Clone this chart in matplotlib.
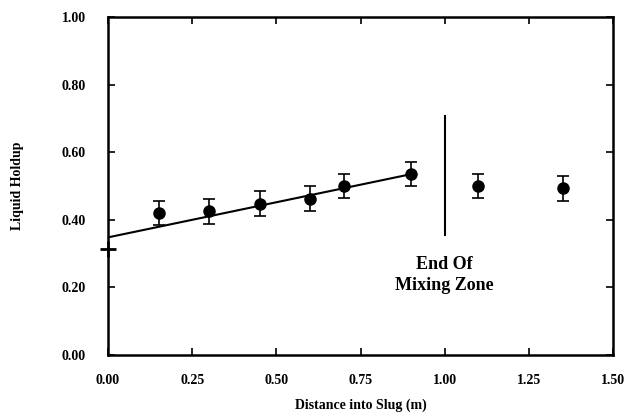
import matplotlib
matplotlib.use("Agg")
import matplotlib.pyplot as plt

x_pts = [0.15, 0.30, 0.45, 0.60, 0.70, 0.90, 1.10, 1.35]
y_pts = [0.42, 0.425, 0.447, 0.462, 0.50, 0.535, 0.50, 0.494]
y_err = [0.036, 0.037, 0.037, 0.037, 0.036, 0.036, 0.036, 0.037]
fit_x = [0.0, 0.90]
fit_y = [0.348, 0.535]
start_x = [0.0]
start_y = [0.314]
zone_x = 1.0
zone_y = [0.356, 0.706]
xticks = [0.0, 0.25, 0.5, 0.75, 1.0, 1.25, 1.5]
yticks = [0.0, 0.2, 0.4, 0.6, 0.8, 1.0]

plt.rcParams['font.family'] = ['Liberation Serif', 'DejaVu Serif']
plt.rcParams['font.weight'] = 'bold'

fig = plt.figure(figsize=(6.27, 4.13), dpi=100)
ax = fig.add_axes([108/627, 1-355/413, (613-108)/627, (355-17)/413])

ax.plot(fit_x, fit_y, color='black', lw=1.5)
ax.errorbar(x_pts, y_pts, yerr=y_err, fmt='o', color='black', ms=8,
            capsize=4, elinewidth=1.2, capthick=1.2)
ax.plot(start_x, start_y, marker='+', color='black', ms=11, mew=2, clip_on=False)
ax.plot([zone_x, zone_x], zone_y, color='black', lw=1.5)
ax.text(zone_x, 0.238, "End Of\nMixing Zone", ha='center', va='center',
        fontsize=13, fontweight='bold', linespacing=1.3)

ax.set_xlim(0, 1.5)
ax.set_ylim(0, 1.0)
ax.set_xticks(xticks)
ax.set_yticks(yticks)
ax.set_xticklabels([f"{v:.2f}" for v in xticks])
ax.set_yticklabels([f"{v:.2f}" for v in yticks])
ax.tick_params(direction='in', length=5, width=1.2, top=True, right=True,
               labelsize=10, pad=14)
ax.tick_params(axis='y', pad=16)
for lab in ax.get_xticklabels() + ax.get_yticklabels():
    lab.set_fontweight('bold')
for s in ax.spines.values():
    s.set_linewidth(1.8)

ax.set_xlabel("Distance into Slug (m)", fontsize=10, fontweight='bold', labelpad=8)
ax.set_ylabel("Liquid Holdup", fontsize=10, fontweight='bold', labelpad=27)

fig.savefig("out.png", dpi=100)
